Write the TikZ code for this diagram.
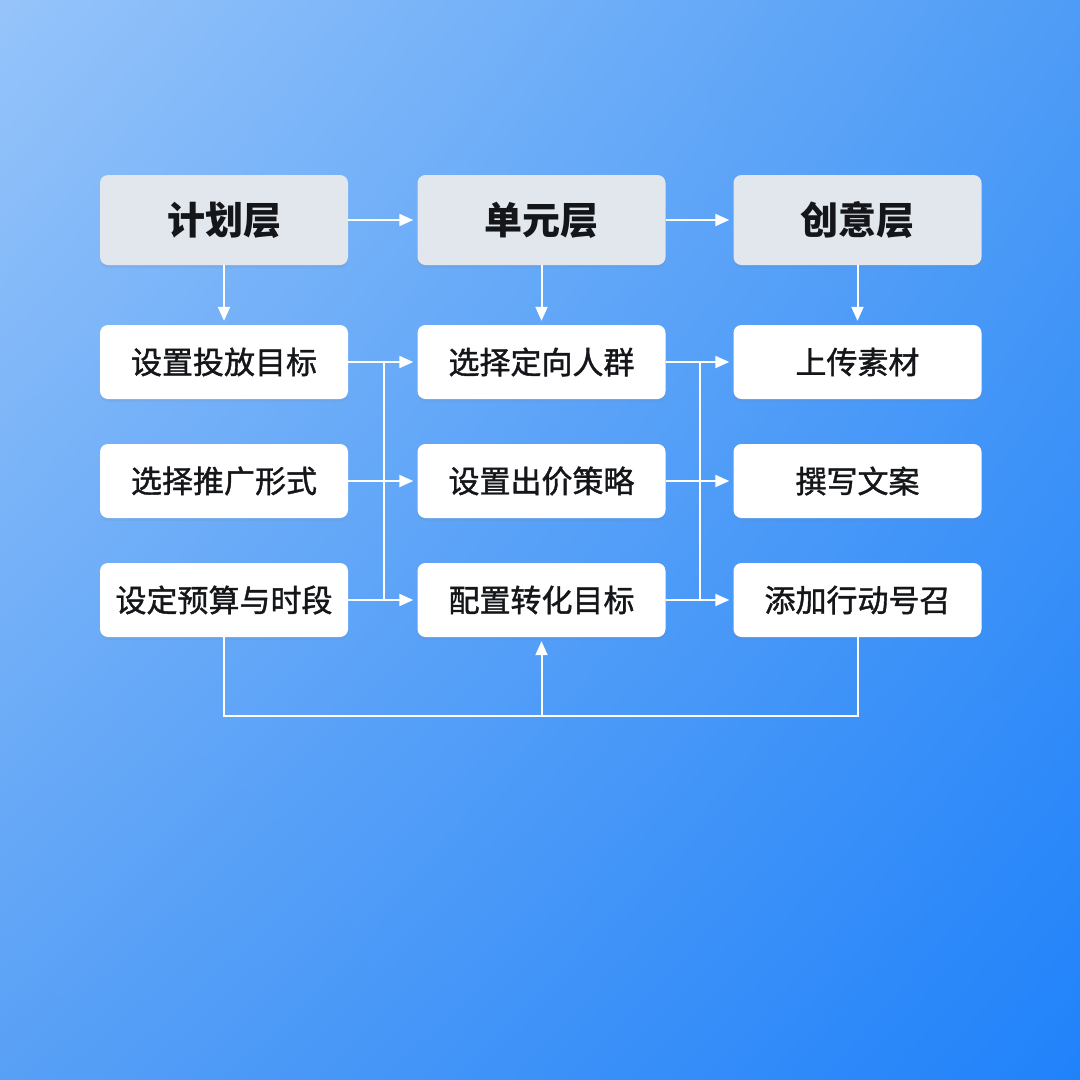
\documentclass[tikz,border=0pt]{standalone}
\usepackage{fontspec}
\newfontfamily\cjk{Noto Sans CJK SC}
\newfontfamily\cjkmed{Noto Sans CJK SC}[FakeBold=1.3]
\usetikzlibrary{arrows.meta,shadows,calc,shadings}
\definecolor{bgUL}{RGB}{150,196,250}
\definecolor{bgUR}{RGB}{78,156,246}
\definecolor{bgLL}{RGB}{88,160,246}
\definecolor{bgLR}{RGB}{32,130,250}
\definecolor{hdrgray}{RGB}{226,231,237}
\definecolor{txt}{RGB}{20,22,26}
\tikzset{
  box/.style={rounded corners=8pt, minimum width=248pt, inner sep=0pt, text=txt,
    drop shadow={opacity=0.12, shadow xshift=0pt, shadow yshift=-3pt}},
  hdr/.style={box, fill=hdrgray, minimum height=90pt, font=\cjk\bfseries\fontsize{38}{41}\selectfont},
  item/.style={box, fill=white, minimum height=74pt, font=\cjkmed\fontsize{31}{35}\selectfont},
  ln/.style={draw=white, line width=2pt},
  arr/.style={ln, -{Triangle[length=14pt,width=12pt]}, shorten >=4pt}
}
\begin{document}
\begin{tikzpicture}[x=1pt,y=-1pt]
\shade[upper left=bgUL, upper right=bgUR, lower left=bgLL, lower right=bgLR] (0,0) rectangle (1080,1080);
\useasboundingbox (0,0) rectangle (1080,1080);

% headers
\node[hdr] (h1) at (224,220) {计划层};
\node[hdr] (h2) at (541.5,220) {单元层};
\node[hdr] (h3) at (857.5,220) {创意层};

% items
\node[item] (a1) at (224,362) {设置投放目标};
\node[item] (a2) at (224,481) {选择推广形式};
\node[item] (a3) at (224,600) {设定预算与时段};
\node[item] (b1) at (541.5,362) {选择定向人群};
\node[item] (b2) at (541.5,481) {设置出价策略};
\node[item] (b3) at (541.5,600) {配置转化目标};
\node[item] (c1) at (857.5,362) {上传素材};
\node[item] (c2) at (857.5,481) {撰写文案};
\node[item] (c3) at (857.5,600) {添加行动号召};

% header connectors
\draw[arr] (h1.east) -- (h2.west);
\draw[arr] (h2.east) -- (h3.west);
\draw[arr] (h1.south) -- (a1.north);
\draw[arr] (h2.south) -- (b1.north);
\draw[arr] (h3.south) -- (c1.north);

% column 1 -> column 2
\coordinate (j1t) at (384,362);
\coordinate (j1b) at (384,600);
\draw[ln] (j1t) -- (j1b);
\draw[arr] (a1.east) -- (b1.west);
\draw[arr] (a2.east) -- (b2.west);
\draw[arr] (a3.east) -- (b3.west);

% column 2 -> column 3
\coordinate (j2t) at (700,362);
\coordinate (j2b) at (700,600);
\draw[ln] (j2t) -- (j2b);
\draw[arr] (b1.east) -- (c1.west);
\draw[arr] (b2.east) -- (c2.west);
\draw[arr] (b3.east) -- (c3.west);

% bottom feedback
\coordinate (f1) at (224,716);
\coordinate (f2) at (541.5,716);
\coordinate (f3) at (857.5,716);
\draw[ln] (a3.south) -- (f1) -- (f3) -- (c3.south);
\draw[arr] (f2) -- (b3.south);
\end{tikzpicture}
\end{document}
